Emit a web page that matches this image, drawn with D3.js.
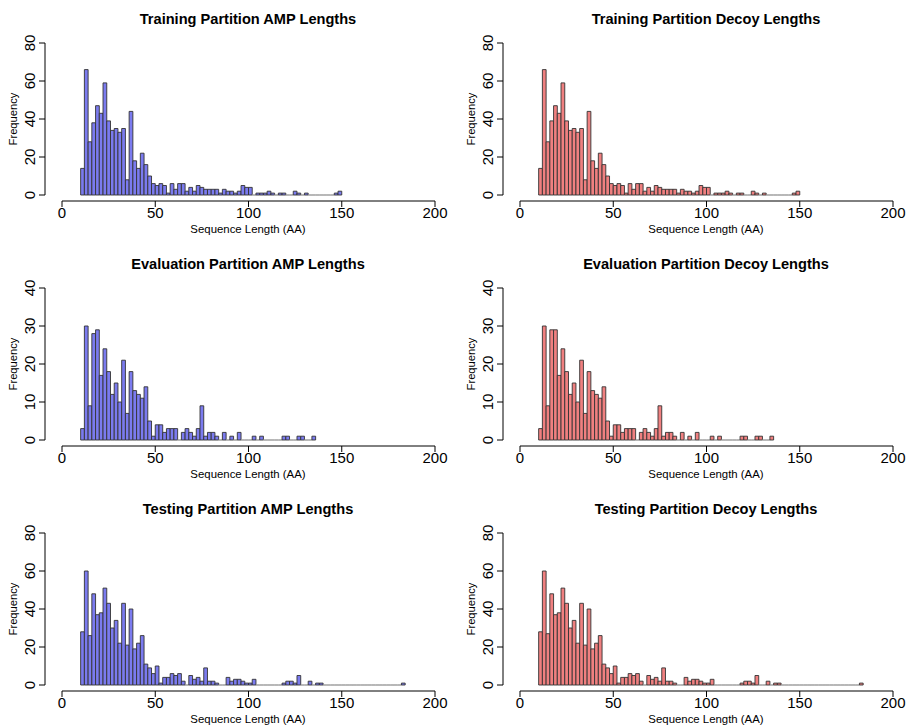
<!DOCTYPE html>
<html>
<head>
<meta charset="utf-8">
<script src="https://cdn.jsdelivr.net/npm/d3@7"></script>
<style>
  body { margin: 0; background: #fff; }
  svg { font-family: "Liberation Sans", Arial, sans-serif; }
</style>
</head>
<body>
<div id="chart"></div>
<script>
// histogram bins start at 10 AA, 2 AA wide
var binStart = 10
var binWidth = 2

var trainAmp = [14, 66, 28, 38, 47, 43, 59, 39, 34, 35, 33, 35, 8, 44, 18, 14, 22, 16, 10, 6,
  5, 6, 5, 1, 6, 3, 6, 6, 2, 4, 2, 5, 4, 3, 3, 3, 3, 1, 3, 2,
  2, 1, 2, 5, 4, 4, 0, 1, 1, 1, 2, 1, 0, 1, 1, 0, 0, 2, 1, 0,
  1, 0, 0, 0, 0, 0, 0, 0, 1, 2]
var trainDecoy = [14, 66, 28, 39, 47, 43, 59, 39, 34, 35, 33, 35, 8, 44, 18, 14, 22, 16, 10, 6,
  5, 6, 5, 1, 6, 3, 6, 6, 2, 4, 2, 5, 4, 3, 3, 3, 3, 1, 3, 2,
  2, 1, 2, 5, 4, 4, 0, 1, 1, 1, 2, 1, 0, 1, 1, 0, 0, 2, 1, 0,
  1, 0, 0, 0, 0, 0, 0, 0, 1, 2]
var evalAmp = [3, 30, 9, 28, 29, 17, 24, 18, 12, 15, 10, 21, 7, 18, 13, 12, 11, 14, 5, 1,
  4, 4, 2, 3, 3, 3, 0, 2, 3, 2, 1, 3, 9, 1, 2, 2, 1, 0, 2, 0,
  1, 0, 2, 0, 0, 0, 1, 0, 1, 0, 0, 0, 0, 0, 1, 1, 0, 0, 1, 1,
  0, 0, 1]
var evalDecoy = [3, 30, 9, 29, 29, 17, 24, 18, 12, 15, 10, 21, 7, 18, 13, 12, 11, 14, 5, 1,
  4, 4, 2, 3, 3, 3, 0, 2, 3, 2, 1, 3, 9, 1, 2, 2, 1, 0, 2, 0,
  1, 0, 2, 0, 0, 0, 1, 0, 1, 0, 0, 0, 0, 0, 1, 1, 0, 0, 1, 1,
  0, 0, 1]
var testAmp = [28, 60, 26, 48, 37, 38, 51, 43, 30, 34, 22, 43, 21, 40, 19, 22, 26, 11, 9, 6,
  10, 1, 4, 4, 6, 5, 6, 2, 0, 5, 3, 4, 2, 9, 2, 2, 1, 0, 0, 4,
  2, 3, 3, 2, 1, 1, 3, 0, 0, 0, 0, 0, 0, 0, 1, 2, 2, 1, 5, 0,
  0, 2, 0, 1, 1, 0, 0, 0, 0, 0, 0, 0, 0, 0, 0, 0, 0, 0, 0, 0,
  0, 0, 0, 0, 0, 0, 1]
var testDecoy = [28, 60, 27, 48, 37, 38, 51, 43, 30, 34, 22, 43, 21, 40, 19, 22, 26, 11, 9, 6,
  10, 1, 4, 4, 6, 5, 6, 2, 0, 5, 3, 4, 2, 9, 2, 2, 1, 0, 0, 4,
  2, 3, 3, 2, 1, 1, 3, 0, 0, 0, 0, 0, 0, 0, 1, 2, 2, 1, 5, 0,
  0, 2, 0, 1, 1, 0, 0, 0, 0, 0, 0, 0, 0, 0, 0, 0, 0, 0, 0, 0,
  0, 0, 0, 0, 0, 0, 1]

var xTicks = [0, 50, 100, 150, 200]
var yTicksBig = [0, 20, 40, 60, 80]
var yTicksSmall = [0, 10, 20, 30, 40]

var panels = [
  { title: "Training Partition AMP Lengths", counts: trainAmp, col: 0, row: 0, ymax: 80, ticks: yTicksBig, fill: "#7b7bef" },
  { title: "Training Partition Decoy Lengths", counts: trainDecoy, col: 1, row: 0, ymax: 80, ticks: yTicksBig, fill: "#f08080" },
  { title: "Evaluation Partition AMP Lengths", counts: evalAmp, col: 0, row: 1, ymax: 40, ticks: yTicksSmall, fill: "#7b7bef" },
  { title: "Evaluation Partition Decoy Lengths", counts: evalDecoy, col: 1, row: 1, ymax: 40, ticks: yTicksSmall, fill: "#f08080" },
  { title: "Testing Partition AMP Lengths", counts: testAmp, col: 0, row: 2, ymax: 80, ticks: yTicksBig, fill: "#7b7bef" },
  { title: "Testing Partition Decoy Lengths", counts: testDecoy, col: 1, row: 2, ymax: 80, ticks: yTicksBig, fill: "#f08080" }
]

var W = 908, H = 727
var svg = d3.select("#chart").append("svg")
  .attr("width", W).attr("height", H)

panels.forEach(function(p) {
  var ox = p.col * 458
  var oy = p.row * 245
  var x = d3.scaleLinear().domain([0, 200]).range([ox + 62, ox + 435])
  var y = d3.scaleLinear().domain([0, p.ymax]).range([oy + 195, oy + 43])
  var axisX = ox + 45     // left edge of plot region
  var axisY = oy + 201    // bottom edge of plot region
  var g = svg.append("g")

  var bins = p.counts.map(function(c, i) {
    return { x0: binStart + i * binWidth, x1: binStart + (i + 1) * binWidth, n: c }
  })

  g.selectAll("path.bar").data(bins).enter().append("path")
    .attr("class", "bar")
    .attr("d", function(d) {
      var x0 = x(d.x0), x1 = x(d.x1), y0 = y(0), y1 = y(d.n)
      return "M" + x0 + "," + y0 + "V" + y1 + "H" + x1 + "V" + y0 + "Z"
    })
    .attr("fill", p.fill)
    .attr("stroke", function(d) { return d.n == 0 ? "#999" : "#333" })
    .attr("stroke-width", 0.9)

  // y axis
  var yTop = y(p.ymax), yBot = y(0)
  g.append("line").attr("x1", axisX).attr("x2", axisX).attr("y1", yTop).attr("y2", yBot)
    .attr("stroke", "#000").attr("stroke-width", 1)
  p.ticks.forEach(function(t) {
    g.append("line").attr("x1", axisX - 6).attr("x2", axisX).attr("y1", y(t)).attr("y2", y(t))
      .attr("stroke", "#000")
    g.append("text")
      .attr("transform", "translate(" + (axisX - 10) + "," + y(t) + ") rotate(-90)")
      .attr("text-anchor", "middle")
      .attr("font-size", 15)
      .text(t)
  })

  // x axis
  g.append("line").attr("x1", x(0)).attr("x2", x(200)).attr("y1", axisY).attr("y2", axisY)
    .attr("stroke", "#000")
  xTicks.forEach(function(t) {
    g.append("line").attr("x1", x(t)).attr("x2", x(t)).attr("y1", axisY).attr("y2", axisY + 6)
      .attr("stroke", "#000")
    g.append("text").attr("x", x(t)).attr("y", axisY + 17)
      .attr("text-anchor", "middle").attr("font-size", 15)
      .text(t)
  })

  var cx = (axisX + x(200) + 16) / 2
  g.append("text").attr("x", cx).attr("y", oy + 24)
    .attr("text-anchor", "middle").attr("font-size", 14.6).attr("font-weight", "bold")
    .text(p.title)
  g.append("text").attr("x", cx).attr("y", oy + 233)
    .attr("text-anchor", "middle").attr("font-size", 11.4)
    .text("Sequence Length (AA)")
  g.append("text")
    .attr("transform", "translate(" + (ox + 17) + "," + (oy + 119) + ") rotate(-90)")
    .attr("text-anchor", "middle").attr("font-size", 11.2)
    .text("Frequency")
})
</script>
</body>
</html>
